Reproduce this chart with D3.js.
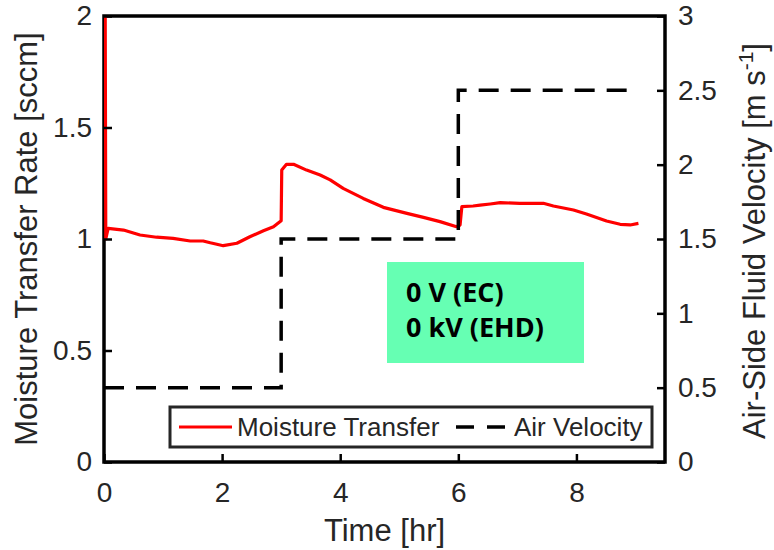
<!DOCTYPE html>
<html>
<head>
<meta charset="utf-8">
<script src="https://cdn.jsdelivr.net/npm/d3@7"></script>
<style>
  html, body { margin: 0; padding: 0; background: #fff; }
  svg { display: block; }
</style>
</head>
<body>
<svg id="chart" width="774" height="550"></svg>
<script>
// ---- Data ----
const moistTime = [0.02, 0.03, 0.07, 0.33, 0.61, 0.89, 1.17, 1.46, 1.68, 1.80, 2.02, 2.25, 2.47, 2.70, 2.87, 3.00,
  3.01, 3.09, 3.21, 3.43, 3.66, 3.83, 4.05, 4.39, 4.73, 5.13, 5.41, 5.69, 5.97, 6.03, 6.06, 6.25, 6.37, 6.54,
  6.71, 7.04, 7.44, 7.61, 7.95, 8.17, 8.51, 8.74, 8.91, 9.05];
const moistValue = [2.05, 1.00, 1.048, 1.040, 1.018, 1.008, 1.003, 0.991, 0.991, 0.983, 0.970, 0.981, 1.010, 1.037, 1.055, 1.082,
  1.309, 1.335, 1.335, 1.309, 1.287, 1.265, 1.227, 1.182, 1.142, 1.115, 1.097, 1.078, 1.055, 1.063, 1.145, 1.148, 1.152, 1.157,
  1.163, 1.160, 1.160, 1.148, 1.130, 1.112, 1.081, 1.066, 1.063, 1.070];
const velTime = [0, 3, 6, 9];
const velValue = [0.5, 1.5, 2.5, 2.5];

const xTicks = [0, 2, 4, 6, 8];
const yLeftTicks = [0, 0.5, 1, 1.5, 2];
const yRightTicks = [0, 0.5, 1, 1.5, 2, 2.5, 3];
const legendLabels = ["Moisture Transfer", "Air Velocity"];
const annotationLines = ["0 V (EC)", "0 kV (EHD)"];

// ---- Layout ----
const svg = d3.select("#chart");
const L = 104, R = 665, T = 16, B = 462;
const x = d3.scaleLinear().domain([0, 9.5]).range([L, R]);
const yL = d3.scaleLinear().domain([0, 2]).range([B, T]);
const yR = d3.scaleLinear().domain([0, 3]).range([B, T]);
const axisColor = "#000";
const textColor = "#262626";
const tickFont = "28px 'Liberation Sans', Arial, sans-serif";

svg.append("defs").append("clipPath").attr("id", "clip")
  .append("rect").attr("x", L).attr("y", T).attr("width", R - L).attr("height", B - T);

// Green annotation box
const ann = svg.append("g");
ann.append("rect").attr("x", 387).attr("y", 262).attr("width", 197).attr("height", 101).attr("fill", "#66FFB3");
ann.selectAll("text").data(annotationLines).join("text")
  .attr("x", 406).attr("y", (d, i) => 302 + i * 35)
  .style("font", "bold 27px 'Open Sans', sans-serif").attr("fill", "#000")
  .text(d => d);

// Box frame (drawn under the data lines)
svg.append("rect").attr("x", L).attr("y", T).attr("width", R - L).attr("height", B - T)
  .attr("fill", "none").attr("stroke", axisColor).attr("stroke-width", 3.5);

// Data lines
const plot = svg.append("g").attr("clip-path", "url(#clip)");
const moistData = moistTime.map((t, i) => [t, moistValue[i]]);
plot.append("path").datum(moistData)
  .attr("fill", "none").attr("stroke", "#ff0000").attr("stroke-width", 3.2).attr("stroke-linejoin", "round")
  .attr("d", d3.line().x(d => x(d[0])).y(d => yL(d[1])));

const velData = velTime.map((t, i) => [t, velValue[i]]);
plot.append("path").datum(velData)
  .attr("fill", "none").attr("stroke", "#000").attr("stroke-width", 3.5).attr("stroke-dasharray", "20 12")
  .attr("d", d3.line().curve(d3.curveStepAfter).x(d => x(d[0])).y(d => yR(d[1])));

// Axes
const styleAxis = (g) => {
  g.select(".domain").remove();
  g.selectAll(".tick line").attr("stroke", axisColor).attr("stroke-width", 2.5);
  g.selectAll(".tick text").attr("fill", textColor).style("font", tickFont);
};
svg.append("g").attr("transform", `translate(0,${B})`)
  .call(d3.axisBottom(x).tickValues(xTicks).tickSize(-8).tickFormat(d3.format("d")))
  .call(styleAxis)
  .call(g => g.selectAll(".tick text").attr("dy", "0.71em").attr("y", 20));
svg.append("g").attr("transform", `translate(${L},0)`)
  .call(d3.axisLeft(yL).tickValues(yLeftTicks).tickSize(-8).tickFormat(d => d3.format("")(d)))
  .call(styleAxis)
  .call(g => g.selectAll(".tick text").attr("x", -12));
svg.append("g").attr("transform", `translate(${R},0)`)
  .call(d3.axisRight(yR).tickValues(yRightTicks).tickSize(-8).tickFormat(d => d3.format("")(d)))
  .call(styleAxis)
  .call(g => g.selectAll(".tick text").attr("x", 13));

// Axis titles
const titleFont = "31px 'Liberation Sans', Arial, sans-serif";
svg.append("text").attr("transform", `translate(37,${(T + B) / 2}) rotate(-90)`)
  .attr("text-anchor", "middle").style("font", titleFont).attr("fill", textColor)
  .text("Moisture Transfer Rate [sccm]");
svg.append("text").attr("x", (L + R) / 2).attr("y", 541)
  .attr("text-anchor", "middle").style("font", titleFont).attr("fill", textColor)
  .text("Time [hr]");
const rt = svg.append("text").attr("transform", `translate(765,${(T + B) / 2 + 2}) rotate(-90)`)
  .attr("text-anchor", "middle").style("font", titleFont).attr("fill", textColor);
rt.append("tspan").text("Air-Side Fluid Velocity [m s");
rt.append("tspan").attr("dy", -12).style("font-size", "21px").text("-1");
rt.append("tspan").attr("dy", 12).text("]");

// Legend
const lg = svg.append("g");
lg.append("rect").attr("x", 170).attr("y", 407).attr("width", 482).attr("height", 40)
  .attr("fill", "#fff").attr("stroke", textColor).attr("stroke-width", 3);
const legendFont = "26px 'Liberation Sans', Arial, sans-serif";
lg.append("line").attr("x1", 179).attr("x2", 232).attr("y1", 427).attr("y2", 427)
  .attr("stroke", "#ff0000").attr("stroke-width", 3.2);
lg.append("text").attr("x", 237).attr("y", 436).style("font", legendFont).attr("fill", textColor).text(legendLabels[0]);
lg.append("line").attr("x1", 456).attr("x2", 507).attr("y1", 427).attr("y2", 427)
  .attr("stroke", "#000").attr("stroke-width", 3.5).attr("stroke-dasharray", "18 13");
lg.append("text").attr("x", 514).attr("y", 436).style("font", legendFont).attr("fill", textColor).text(legendLabels[1]);
</script>
</body>
</html>
